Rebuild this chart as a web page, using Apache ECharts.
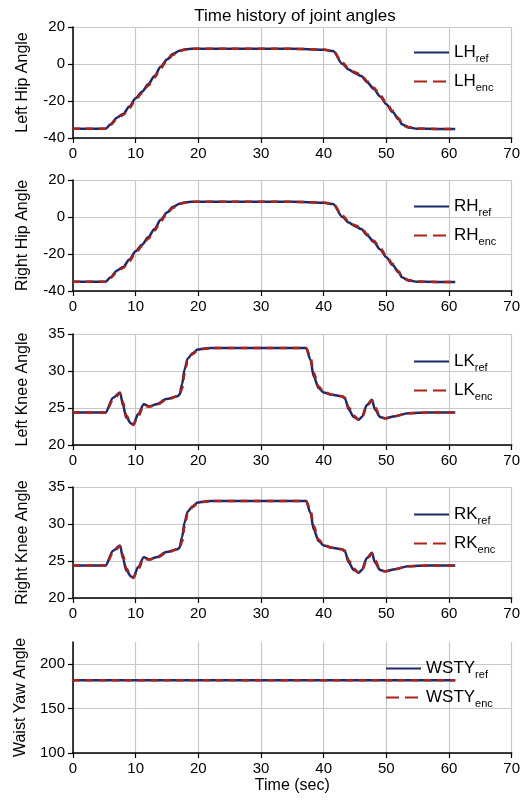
<!DOCTYPE html>
<html>
<head>
<meta charset="utf-8">
<script src="https://cdn.jsdelivr.net/npm/echarts@6/dist/echarts.min.js"></script>
<style>
  html, body { margin: 0; padding: 0; background: #fff; }
  #chart { width: 523px; height: 805px; }
</style>
</head>
<body>
<div id="chart"></div>
<script>
// hip joints (left and right follow the same trajectory)
const hipTime = [0, 5.2, 6, 7, 8, 9, 10, 11, 12, 13, 14, 15, 16, 17, 18, 19, 25, 30, 35, 40, 41.5, 43, 44, 45, 46, 47, 48, 49, 50, 51, 52, 52.5, 53.5, 55, 58, 61]
const hipRef = [-35, -35, -32.5, -29, -27, -23, -18.5, -15, -11, -6.5, -1.5, 2.5, 5.5, 7.2, 8, 8.2, 8.2, 8.2, 8.2, 7.7, 7, 0, -3, -5, -6.5, -10, -13.5, -17.5, -21.7, -26, -30, -32.6, -34.3, -35, -35.1, -35.1]
const hipEnc = [-35, -35, -33, -29.8, -27.6, -23.8, -19.3, -15.8, -11.8, -7.3, -2.3, 1.8, 5, 7, 7.9, 8.2, 8.2, 8.2, 8.2, 7.8, 7.2, 0.8, -2.4, -4.4, -6, -9.4, -12.8, -16.8, -21, -25.3, -29.4, -32.1, -34, -34.9, -35.1, -35.1]

// knee joints
const kneeTime = [0, 5.2, 6.4, 7.5, 8.0, 8.5, 9.3, 9.6, 10.4, 11.3, 12.2, 13.3, 14.9, 16.7, 17.0, 17.4, 17.8, 18.3, 19.1, 19.9, 21, 22, 30, 37.2, 37.9, 38.4, 39.2, 40, 41.3, 42.9, 43.4, 44.0, 44.8, 45.6, 46.1, 46.9, 47.7, 48.2, 49.0, 49.8, 51.4, 53.5, 56.7, 61]
const kneeRef = [24.4, 24.4, 26.4, 27.1, 25.3, 23.7, 22.9, 22.7, 24.2, 25.5, 25.2, 25.5, 26.2, 26.6, 26.8, 28.2, 30.2, 31.7, 32.4, 32.9, 33.05, 33.1, 33.1, 33.1, 31.5, 29.3, 27.7, 27.1, 26.8, 26.6, 26.3, 24.8, 23.8, 23.4, 23.8, 25.4, 26.1, 24.8, 23.8, 23.6, 23.9, 24.3, 24.4, 24.4]
const kneeEnc = [24.4, 24.4, 26.1, 27.0, 25.7, 24.0, 23.0, 22.7, 23.9, 25.3, 25.2, 25.4, 26.1, 26.6, 26.7, 27.6, 29.6, 31.4, 32.3, 32.8, 33.0, 33.1, 33.1, 33.1, 31.9, 29.8, 27.9, 27.2, 26.8, 26.6, 26.4, 25.1, 24.0, 23.4, 23.7, 25.2, 26.0, 25.1, 23.9, 23.6, 23.9, 24.3, 24.4, 24.4]

// waist yaw
const waistTime = [0, 61]
const waistRef = [182, 182]
const waistEnc = [182, 182]

const panels = [
  { label: 'Left Hip Angle', key: 'LH', t: hipTime, ref: hipRef, enc: hipEnc, min: -40, max: 20, step: 20, top: 27, legendTop: 36, legendLeft: 408 },
  { label: 'Right Hip Angle', key: 'RH', t: hipTime, ref: hipRef, enc: hipEnc, min: -40, max: 20, step: 20, top: 180, legendTop: 190, legendLeft: 408 },
  { label: 'Left Knee Angle', key: 'LK', t: kneeTime, ref: kneeRef, enc: kneeEnc, min: 20, max: 35, step: 5, top: 334, legendTop: 345, legendLeft: 408 },
  { label: 'Right Knee Angle', key: 'RK', t: kneeTime, ref: kneeRef, enc: kneeEnc, min: 20, max: 35, step: 5, top: 487, legendTop: 498, legendLeft: 408 },
  { label: 'Waist Yaw Angle', key: 'WSTY', t: waistTime, ref: waistRef, enc: waistEnc, min: 100, max: 225, step: 50, top: 642, legendTop: 652, legendLeft: 380 },
]

const FONT = "'Liberation Sans', Arial, sans-serif"
const REF_COLOR = '#1c2a6b'
const ENC_COLOR = '#ad231b'
const PLOT_H = 111

const pairs = (t, v) => t.map((x, i) => [x, v[i]])

const grid = []
const xAxis = []
const yAxis = []
const series = []
const legend = []

panels.forEach((p, i) => {
  const last = i === panels.length - 1
  grid.push({ left: 73, width: 440, top: p.top, height: PLOT_H })
  xAxis.push({
    type: 'value',
    gridIndex: i,
    min: 0,
    max: 70,
    interval: 10,
    name: last ? 'Time (sec)' : '',
    nameLocation: 'middle',
    nameGap: 25,
    nameTextStyle: { fontFamily: FONT, fontSize: 16, color: '#000' },
    axisLine: { onZero: false, lineStyle: { color: '#000', width: 1.5 } },
    axisTick: { length: 5, lineStyle: { color: '#000', width: 1.2 } },
    axisLabel: { fontFamily: FONT, fontSize: 15, color: '#000', margin: 8 },
    splitLine: { lineStyle: { color: '#c8c8c8', width: 1.2 } },
  })
  yAxis.push({
    type: 'value',
    gridIndex: i,
    min: p.min,
    max: p.max,
    interval: p.step,
    name: p.label,
    nameLocation: 'middle',
    nameGap: 42,
    nameTextStyle: { fontFamily: FONT, fontSize: 16, color: '#000' },
    axisLine: { show: true, onZero: false, lineStyle: { color: '#000', width: 1.5 } },
    axisTick: { show: true, length: 5, lineStyle: { color: '#000', width: 1.2 } },
    axisLabel: { fontFamily: FONT, fontSize: 15, color: '#000', margin: 8, showMaxLabel: !last },
    splitLine: { showMaxLine: !last, lineStyle: { color: '#c8c8c8', width: 1.2 } },
  })
  const refName = p.key + '_ref'
  const encName = p.key + '_enc'
  series.push({
    name: refName,
    type: 'line',
    xAxisIndex: i,
    yAxisIndex: i,
    data: pairs(p.t, p.ref),
    symbol: 'none',
    smooth: 0.3,
    smoothMonotone: 'x',
    lineStyle: { color: REF_COLOR, width: 2.5 },
    itemStyle: { color: REF_COLOR },
  })
  series.push({
    name: encName,
    type: 'line',
    xAxisIndex: i,
    yAxisIndex: i,
    data: pairs(p.t, p.enc),
    symbol: 'none',
    smooth: 0.3,
    smoothMonotone: 'x',
    lineStyle: { color: ENC_COLOR, width: 2.5, type: [7, 6] },
    itemStyle: { color: ENC_COLOR },
  })
  legend.push({
    data: [
      { name: refName },
      { name: encName, lineStyle: { type: [13, 6] } },
    ],
    orient: 'vertical',
    left: p.legendLeft,
    top: p.legendTop,
    itemWidth: 35,
    itemHeight: 14,
    itemGap: 6,
    selectedMode: false,
    itemStyle: { opacity: 0 },
    formatter: (name) => {
      const [main, sub] = name.split('_')
      return `{m|${main}}{s|${sub}}`
    },
    textStyle: {
      fontFamily: FONT,
      color: '#000',
      rich: {
        m: { fontFamily: FONT, fontSize: 17, color: '#000', lineHeight: 22 },
        s: { fontFamily: FONT, fontSize: 11, color: '#000', lineHeight: 12, padding: [12, 0, 0, 0] },
      },
    },
  })
})

const chart = echarts.init(document.getElementById('chart'), null, { renderer: 'canvas' })
chart.setOption({
  backgroundColor: '#fff',
  animation: false,
  title: {
    text: 'Time history of joint angles',
    left: 290,
    textAlign: 'center',
    top: 3,
    textStyle: { fontFamily: FONT, fontSize: 17, fontWeight: 'normal', color: '#000' },
  },
  grid,
  xAxis,
  yAxis,
  legend,
  series,
})
</script>
</body>
</html>
